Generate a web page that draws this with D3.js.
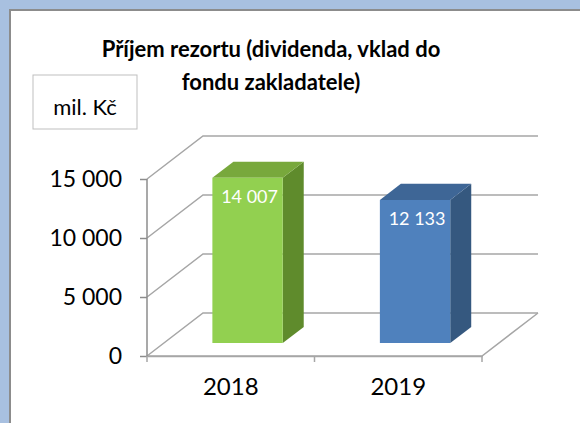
<!DOCTYPE html>
<html>

<head>
  <script src='https://cdn.jsdelivr.net/npm/d3@7/dist/d3.min.js'></script>
  <meta charset='utf-8'>
  <title></title>
  <style>
    body {
      margin: 0;
      background: #a8c0e0;
    }

    #chart {
      width: 580px;
      height: 423px;
    }

    text {
      font-family: Lato, 'Open Sans', sans-serif;
    }
  </style>
</head>

<body>
  <div id='chart'></div>
  <script>
    var years = ['2018', '2019'];
    var values = [14007, 12133];
    var yTicks = [0, 5000, 10000, 15000];
    var title = ['Příjem rezortu (dividenda, vklad do', 'fondu zakladatele)'];
    var unit = 'mil. Kč';

    var colors = [
      { front: '#92d050', side: '#5f8b2c', top: '#78a83c' },
      { front: '#4f81bd', side: '#35587f', top: '#3e6696' }
    ];

    var width = 580,
      height = 423;

    // front plane of the 3d box
    var plot = { left: 147, right: 482, top: 179, bottom: 356 };
    var depth = { dx: 56, dy: -43 };
    var barZ = [0.3, 0.675];

    var fmt = d3.formatLocale({ decimal: ',', thousands: ' ', grouping: [3], currency: ['', ' Kč'] }).format(',d');

    var svg = d3.select('#chart')
      .append('svg')
      .attr('width', width)
      .attr('height', height);

    svg.append('rect')
      .attr('x', 10)
      .attr('y', 10)
      .attr('width', 620)
      .attr('height', 460)
      .attr('fill', '#fff')
      .attr('stroke', '#8c8c8c')
      .attr('stroke-width', 2);

    var xScale = d3.scaleBand()
      .domain(years)
      .range([plot.left, plot.right]);

    var yScale = d3.scaleLinear()
      .domain([0, 15000])
      .range([plot.bottom, plot.top]);

    function pt(x, y, z) {
      return [x + z * depth.dx, y + z * depth.dy];
    }

    var grid = svg.append('g')
      .attr('fill', 'none')
      .attr('stroke', '#a6a6a6')
      .attr('stroke-width', 1.5);

    // left wall diagonals + back wall lines
    yTicks.forEach(function(t) {
      var a = pt(plot.left, yScale(t), 0),
        b = pt(plot.left, yScale(t), 1),
        c = pt(plot.right, yScale(t), 1);
      grid.append('path').attr('d', d3.line()([a, b, c]));
    });

    // floor front and right edges
    grid.append('path')
      .attr('d', d3.line()([
        pt(plot.left, yScale(0), 0),
        pt(plot.right, yScale(0), 0),
        pt(plot.right, yScale(0), 1)
      ]));

    // bars
    var bw = xScale.bandwidth() * 0.42;
    var bars = svg.selectAll('.bar')
      .data(values)
      .enter()
      .append('g')
      .attr('class', 'bar');

    bars.each(function(v, i) {
      var g = d3.select(this);
      var cx = xScale(years[i]) + xScale.bandwidth() / 2;
      var x0 = cx - bw / 2,
        x1 = cx + bw / 2;
      var y0 = yScale(0),
        y1 = yScale(v);
      var z0 = barZ[0],
        z1 = barZ[1];
      var line = d3.line();

      g.append('path')
        .attr('d', line([pt(x1, y0, z0), pt(x1, y0, z1), pt(x1, y1, z1), pt(x1, y1, z0)]) + 'Z')
        .attr('fill', colors[i].side);
      g.append('path')
        .attr('d', line([pt(x0, y1, z0), pt(x1, y1, z0), pt(x1, y1, z1), pt(x0, y1, z1)]) + 'Z')
        .attr('fill', colors[i].top);
      g.append('path')
        .attr('d', line([pt(x0, y0, z0), pt(x1, y0, z0), pt(x1, y1, z0), pt(x0, y1, z0)]) + 'Z')
        .attr('fill', colors[i].front);

      var lp = pt(cx, y1, z0);
      g.append('text')
        .attr('x', lp[0] + 2)
        .attr('y', lp[1] + 25)
        .attr('text-anchor', 'middle')
        .attr('fill', '#fff')
        .attr('font-size', 18)
        .text(fmt(v));
    });

    // y axis
    var yAxis = svg.append('g')
      .attr('transform', 'translate(' + plot.left + ',0)')
      .call(d3.axisLeft(yScale)
        .tickValues(yTicks)
        .tickFormat(fmt)
        .tickSize(7)
        .tickPadding(18));

    yAxis.selectAll('path, line')
      .attr('stroke', '#8c8c8c')
      .attr('stroke-width', 1.5);
    yAxis.select('.domain')
      .attr('d', 'M0,' + plot.top + 'V' + plot.bottom);
    yAxis.selectAll('text')
      .attr('fill', '#000')
      .attr('font-size', 23)
      .attr('font-family', 'Lato, sans-serif');

    // x axis
    var xAxis = svg.append('g')
      .attr('transform', 'translate(0,' + plot.bottom + ')')
      .call(d3.axisBottom(xScale)
        .tickSize(0)
        .tickPadding(22));

    xAxis.select('.domain')
      .attr('stroke', '#a6a6a6')
      .attr('stroke-width', 1.5);
    xAxis.selectAll('text')
      .attr('fill', '#000')
      .attr('font-size', 24)
      .attr('font-family', 'Lato, sans-serif');

    xAxis.selectAll('.edge')
      .data([plot.left, xScale(years[1]), plot.right])
      .enter()
      .append('line')
      .attr('class', 'edge')
      .attr('x1', function(d) { return d; })
      .attr('x2', function(d) { return d; })
      .attr('y1', 0)
      .attr('y2', 6)
      .attr('stroke', '#a6a6a6')
      .attr('stroke-width', 1.5);

    // title
    svg.append('text')
      .attr('x', 271)
      .attr('y', 57)
      .attr('text-anchor', 'middle')
      .attr('font-size', 22)
      .attr('font-weight', 'bold')
      .selectAll('tspan')
      .data(title)
      .enter()
      .append('tspan')
      .attr('x', 271)
      .attr('dy', function(d, i) { return i ? 33 : 0; })
      .text(function(d) { return d; });

    // unit box
    svg.append('rect')
      .attr('x', 33)
      .attr('y', 75)
      .attr('width', 104)
      .attr('height', 54)
      .attr('fill', '#fff')
      .attr('stroke', '#bfbfbf');

    svg.append('text')
      .attr('x', 85)
      .attr('y', 115)
      .attr('text-anchor', 'middle')
      .attr('font-size', 22)
      .text(unit);
  </script>
</body>

</html>
